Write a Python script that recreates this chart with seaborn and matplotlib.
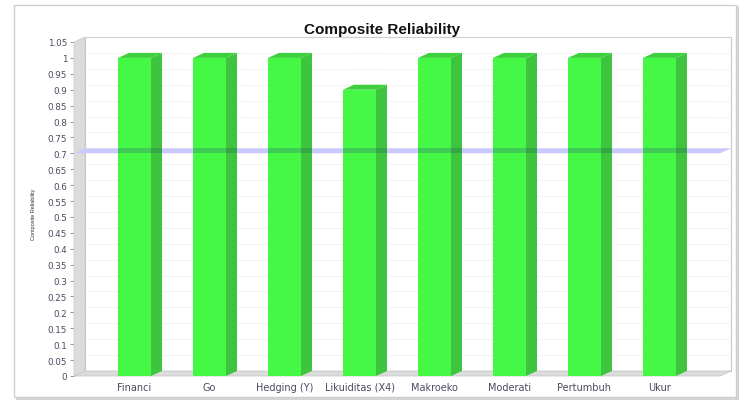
import numpy as np
import pandas as pd
import seaborn as sns
import matplotlib
matplotlib.use("Agg")
import matplotlib.pyplot as plt
from matplotlib.patches import Polygon, Rectangle
from matplotlib.lines import Line2D

# Composite reliability per construct
categories = ["Financi", "Go", "Hedging (Y)", "Likuiditas (X4)",
              "Makroeko", "Moderati", "Pertumbuh", "Ukur"]
reliability = [1.0, 1.0, 1.0, 0.9, 1.0, 1.0, 1.0, 1.0]
threshold = 0.7
y_ticks = [round(0.05 * i, 2) for i in range(22)]
y_tick_labels = ["0"] + [("%g" % t) for t in y_ticks[1:]]

sns.set_theme(style="white")
plt.rcParams["font.family"] = ["Liberation Sans", "DejaVu Sans"]

W, H = 740, 402
fig = plt.figure(figsize=(W / 100, H / 100), dpi=100)
fig.patch.set_facecolor("white")

# card frame with a soft shadow
fig.patches.append(Rectangle((16 / W, 1 - 401 / H), 723 / W, 394 / H,
                             transform=fig.transFigure, facecolor="#d4d4d4",
                             edgecolor="none", zorder=-3))
fig.patches.append(Rectangle((14 / W, 1 - 398 / H), 722 / W, 392 / H,
                             transform=fig.transFigure, facecolor="white",
                             edgecolor="#cfcfcf", linewidth=1.0, zorder=-2))

# front plane of the 3D plot
fx0, fx1, fy0, fy1 = 74, 720, 377, 43
ax = fig.add_axes([fx0 / W, 1 - fy0 / H, (fx1 - fx0) / W, (fy0 - fy1) / H])
ax.patch.set_alpha(0)
ax.set_zorder(1)

df = pd.DataFrame({"construct": categories, "value": reliability})
sns.barplot(data=df, x="construct", y="value", color="#46F846",
            saturation=1, width=0.44, edgecolor="none", ax=ax, zorder=4)
bars = [p for p in ax.patches if isinstance(p, Rectangle)]

ax.set_xlim(-0.807, len(categories) - 1 + 0.807)
ax.set_ylim(0, 1.05)
ax.set_yticks(y_ticks)
ax.set_yticklabels(y_tick_labels)
ax.set_xlabel("")
ax.set_ylabel("")
for s in ax.spines.values():
    s.set_visible(False)
ax.tick_params(axis="y", length=3, width=0.6, color="#888888", pad=2,
               left=True)
ax.tick_params(axis="x", length=0, pad=4)
for lab in ax.get_yticklabels():
    lab.set_fontfamily("DejaVu Sans")
    lab.set_fontsize(6.3)
    lab.set_color("#4a4a60")
for lab in ax.get_xticklabels():
    lab.set_fontfamily("DejaVu Sans")
    lab.set_fontsize(7)
    lab.set_color("#4a4a60")

DX, DY = 11, 5  # depth offset in pixels


def to_fig(x, y, d, ox=0.0, oy=0.0):
    px, py = ax.transData.transform((x, y))
    return fig.transFigure.inverted().transform((px + d * DX + ox, py + d * DY + oy))


def face(pts, **kw):
    poly = Polygon([to_fig(*p) for p in pts], closed=True,
                   transform=fig.transFigure, clip_on=False, **kw)
    ax.add_artist(poly)
    return poly


x0, x1 = ax.get_xlim()
ytop = ax.get_ylim()[1]

# back wall, left wall and floor
face([(x0, 0, 1), (x1, 0, 1), (x1, ytop, 1), (x0, ytop, 1)],
     facecolor="white", edgecolor="#c8c8c8", linewidth=0.8, zorder=0.6)
face([(x0, 0, 0), (x0, ytop, 0), (x0, ytop, 1), (x0, 0, 1)],
     facecolor="#dcdcdc", edgecolor="#c8c8c8", linewidth=0.5, zorder=0.7)
face([(x0, 0, 0), (x1, 0, 0), (x1, 0, 1), (x0, 0, 1)],
     facecolor="#dcdcdc", edgecolor="#c4c4c4", linewidth=0.5, zorder=0.7)

# grid lines on the back wall
for t in y_ticks[1:]:
    a, b = to_fig(x0, t, 1), to_fig(x1, t, 1)
    ax.add_artist(Line2D([a[0], b[0]], [a[1], b[1]], transform=fig.transFigure,
                         color="#dedede", linewidth=0.5, linestyle=(0, (2, 2)),
                         clip_on=False, zorder=0.8))

# threshold band at 0.7 (behind the bars)
face([(x0, threshold, 0), (x1, threshold, 0), (x1, threshold, 1), (x0, threshold, 1)],
     facecolor="#c9c9fb", edgecolor="none", zorder=1)

# side and top faces of each bar, with the band seen through them
for p in bars:
    xl, xr, h = p.get_x(), p.get_x() + p.get_width(), p.get_height()
    face([(xr, 0, 0), (xr, h, 0), (xr, h, 1), (xr, 0, 1)],
         facecolor="#3EC43E", edgecolor="none", zorder=3.5)
    face([(xl, h, 0), (xr, h, 0), (xr, h, 1), (xl, h, 1)],
         facecolor="#3CD03C", edgecolor="none", zorder=4.5)
    if h > threshold:
        face([(xl, threshold, 0), (xr, threshold, 0),
              (xr, threshold, 0, 0, DY), (xl, threshold, 0, 0, DY)],
             facecolor="#3FCB55", edgecolor="none", zorder=5)
        face([(xr, threshold, 0), (xr, threshold, 0, DX, 0),
              (xr, threshold, 0, DX, DY), (xr, threshold, 0, 0, DY)],
             facecolor="#35A845", edgecolor="none", zorder=5)

fig.text(382 / W, 1 - 30 / H, "Composite Reliability", ha="center", va="center",
         fontsize=11, fontweight="bold", color="#111111")
fig.text(33 / W, 1 - 214 / H, "Composite Reliability", ha="center", va="center",
         rotation=90, fontsize=4, color="#333333")

fig.savefig("out.png", dpi=100)
